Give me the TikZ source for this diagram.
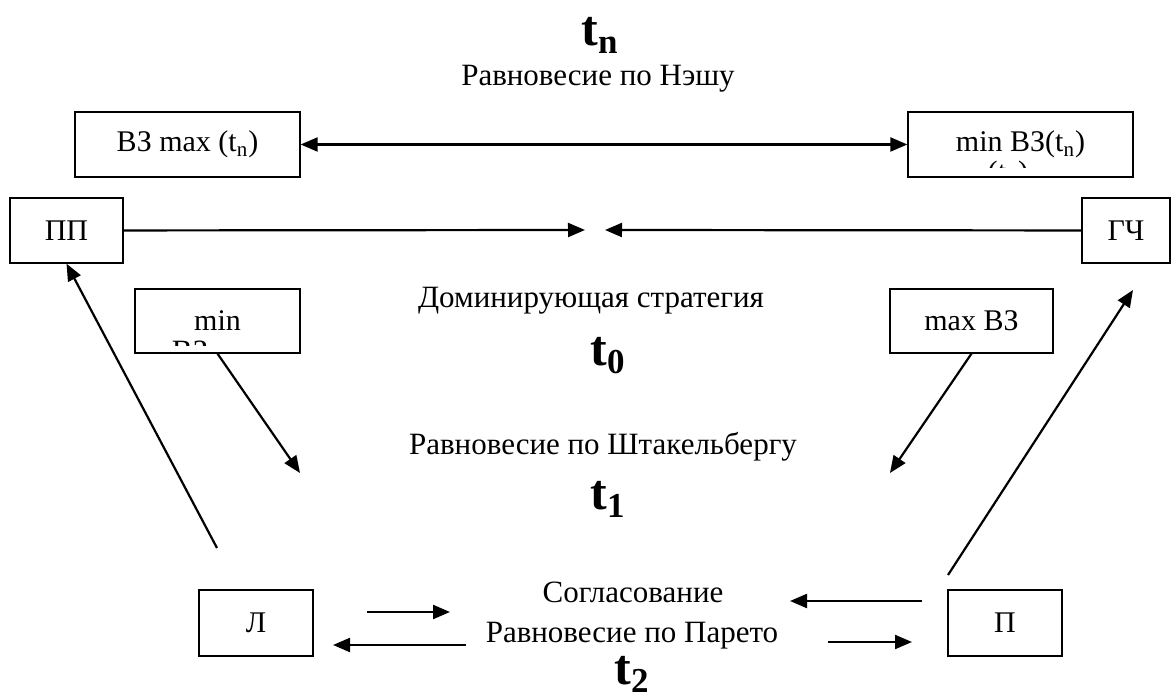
\documentclass[tikz,border=0pt]{standalone}
\usepackage{fontspec}
\setmainfont{Liberation Serif}
\usetikzlibrary{arrows.meta}

\tikzset{
  box/.style={draw, line width=0.65pt, inner sep=0pt, minimum height=32.5pt,
    font=\fontsize{15}{18}\selectfont},
  lbl/.style={inner sep=0pt, anchor=base, font=\fontsize{15.5}{18}\selectfont},
  tlbl/.style={inner sep=0pt, anchor=base, font=\fontsize{25}{28}\selectfont\bfseries},
  arr/.style={line width=1.1pt, -{Triangle[length=8.5pt,width=7pt]}},
  darr/.style={line width=1.1pt, {Triangle[length=8.5pt,width=7pt]}-{Triangle[length=8.5pt,width=7pt]}},
}

\begin{document}
\begin{tikzpicture}[x=0.5pt, y=-0.5pt]
  \useasboundingbox (0,0) rectangle (1175,700);

  % times and equilibria
  \node[tlbl] (tn) at (600,46) {t\textsubscript{n}};
  \node[lbl] (nash) at (598,86) {Равновесие по Нэшу};
  \node[lbl] (dom) at (591,308) {Доминирующая стратегия};
  \node[tlbl] (t0) at (608,366) {t\textsubscript{0}};
  \node[lbl] (stack) at (603,455) {Равновесие по Штакельбергу};
  \node[tlbl] (t1) at (608,510) {t\textsubscript{1}};
  \node[lbl] (agree) at (633,603) {Согласование};
  \node[lbl] (pareto) at (632,643) {Равновесие по Парето};
  \node[tlbl] (t2) at (632,685) {t\textsubscript{2}};

  % boxes
  \node[box, minimum width=112.5pt] (VZmax) at (187.5,144.5) {ВЗ max (t\textsubscript{n})};
  \node[box, minimum width=112.5pt] (minVZ) at (1020.5,144.5) {min ВЗ(t\textsubscript{n})};
  \node[box, minimum width=56.5pt] (PP) at (66.5,230.5) {ПП};
  \node[box, minimum width=44pt] (GCh) at (1126,230.5) {ГЧ};
  \node[box, minimum width=82.5pt, minimum height=32pt] (minb) at (217.5,321) {min};
  \node[box, minimum width=81.5pt, minimum height=32pt] (maxb) at (971.5,321) {max ВЗ};
  \node[box, minimum width=57pt, minimum height=33pt] (L) at (256,623) {Л};
  \node[box, minimum width=57pt, minimum height=33pt] (P) at (1005,623) {П};

  % cut off second lines
  \begin{scope}
    \clip (136,290) rectangle (299,346);
    \node[lbl] (minrest) at (190,362) {ВЗ};
  \end{scope}
  \begin{scope}
    \clip (909,113) rectangle (1132,168);
    \node[lbl] (minVZrest) at (1008,183) {(t\textsubscript{n})};
  \end{scope}

  % free ends
  \coordinate (midl) at (585,230);
  \coordinate (midr) at (605,230);
  \coordinate (stl) at (300,473);
  \coordinate (str) at (890,473);
  \coordinate (Lup) at (217,548);
  \coordinate (Pup) at (948,575);
  \coordinate (GChlow) at (1133,290);
  \coordinate (a1) at (367,612);
  \coordinate (a2) at (450,612);
  \coordinate (b1) at (466,645);
  \coordinate (b2) at (333,645);
  \coordinate (c1) at (922,601);
  \coordinate (c2) at (790,601);
  \coordinate (d1) at (828,642);
  \coordinate (d2) at (912,642);

  \draw[darr] (VZmax) -- (minVZ);
  \draw[arr] (PP) -- (midl);
  \draw[arr] (GCh) -- (midr);
  \draw[arr] (minb.south) -- (stl);
  \draw[arr] (maxb.south) -- (str);
  \draw[arr] (Lup) -- (PP.south);
  \draw[arr] (Pup) -- (GChlow);
  \draw[arr] (a1) -- (a2);
  \draw[arr] (b1) -- (b2);
  \draw[arr] (c1) -- (c2);
  \draw[arr] (d1) -- (d2);
\end{tikzpicture}
\end{document}
